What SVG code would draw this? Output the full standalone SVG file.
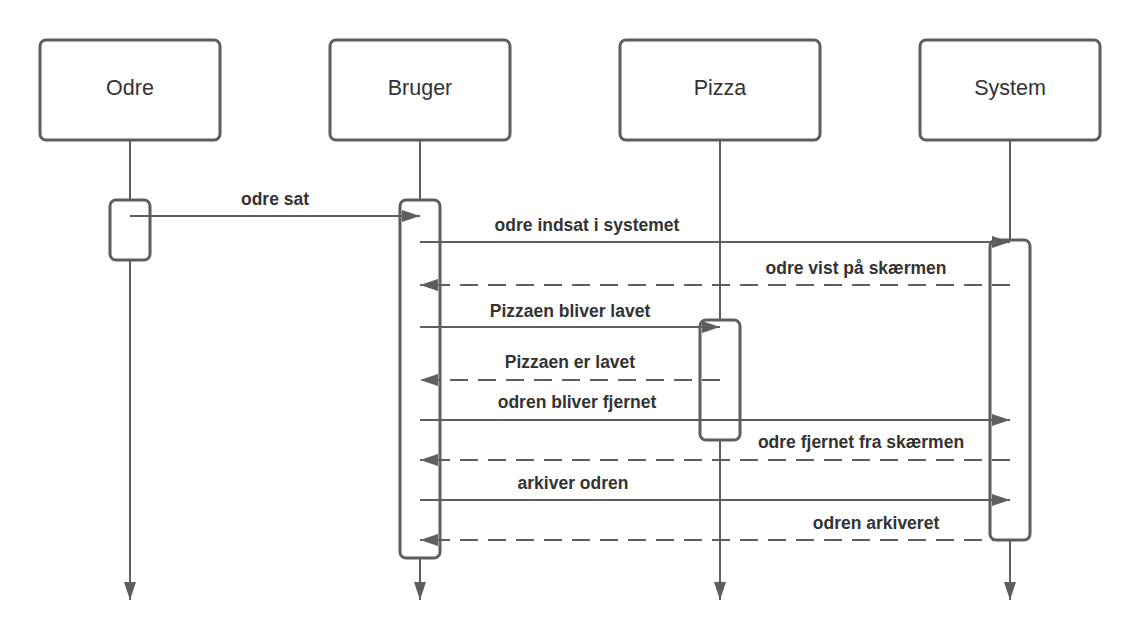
<svg xmlns="http://www.w3.org/2000/svg" width="1140" height="637" viewBox="0 0 1140 637">
<style>
.box{fill:#fff;stroke:#5e5e5e;stroke-width:3}
.act{fill:#fff;stroke:#5e5e5e;stroke-width:3}
.life{stroke:#5e5e5e;stroke-width:2;fill:none}
.msg{stroke:#5e5e5e;stroke-width:2;fill:none}
.dash{stroke-dasharray:18 10}
.nt{font-family:"Liberation Sans",Arial,sans-serif;font-size:21.5px;fill:#333;text-anchor:middle}
.lt{font-family:"Liberation Sans",Arial,sans-serif;font-size:17.5px;font-weight:bold;fill:#333;text-anchor:middle}
</style>
<defs>
<marker id="ah" markerUnits="userSpaceOnUse" markerWidth="18" markerHeight="12" refX="18" refY="6" orient="auto" overflow="visible">
<path d="M0,0 L18,6 L0,12 Z" fill="#5e5e5e"/>
</marker>
</defs>
<rect width="1140" height="637" fill="#fff"/>
<g id="lifelines">
<line class="life" x1="130" y1="140" x2="130" y2="600" marker-end="url(#ah)"/>
<line class="life" x1="420" y1="140" x2="420" y2="600" marker-end="url(#ah)"/>
<line class="life" x1="720" y1="140" x2="720" y2="600" marker-end="url(#ah)"/>
<line class="life" x1="1010" y1="140" x2="1010" y2="600" marker-end="url(#ah)"/>
</g>
<g id="odre">
<rect class="box" x="40" y="40" width="180" height="100" rx="6"/>
<text class="nt" x="130" y="95">Odre</text>
</g>
<g id="bruger">
<rect class="box" x="330" y="40" width="180" height="100" rx="6"/>
<text class="nt" x="420" y="95">Bruger</text>
</g>
<g id="pizza">
<rect class="box" x="620" y="40" width="200" height="100" rx="6"/>
<text class="nt" x="720" y="95">Pizza</text>
</g>
<g id="system">
<rect class="box" x="920" y="40" width="180" height="100" rx="6"/>
<text class="nt" x="1010" y="95">System</text>
</g>
<g id="act-odre"><rect class="act" x="110" y="200" width="40" height="60" rx="6"/></g>
<g id="act-bruger"><rect class="act" x="400" y="200" width="40" height="358" rx="6"/></g>
<g id="act-pizza"><rect class="act" x="700" y="320" width="40" height="120" rx="6"/></g>
<g id="act-system"><rect class="act" x="990" y="240" width="40" height="300" rx="6"/></g>
<g id="connectors">
<line class="msg" x1="130" y1="216" x2="420" y2="216" marker-end="url(#ah)"/>
<line class="msg" x1="420" y1="242" x2="1010" y2="242" marker-end="url(#ah)"/>
<line class="msg dash" x1="1010" y1="285" x2="420" y2="285" marker-end="url(#ah)"/>
<line class="msg" x1="420" y1="327" x2="720" y2="327" marker-end="url(#ah)"/>
<line class="msg dash" x1="720" y1="380" x2="420" y2="380" marker-end="url(#ah)"/>
<line class="msg" x1="420" y1="420" x2="1010" y2="420" marker-end="url(#ah)"/>
<line class="msg dash" x1="1010" y1="460" x2="420" y2="460" marker-end="url(#ah)"/>
<line class="msg" x1="420" y1="500" x2="1010" y2="500" marker-end="url(#ah)"/>
<line class="msg dash" x1="1010" y1="540" x2="420" y2="540" marker-end="url(#ah)"/>
</g>
<g id="labels">
<text class="lt" x="275" y="205">odre sat</text>
<text class="lt" x="587" y="231">odre indsat i systemet</text>
<text class="lt" x="856" y="274">odre vist på skærmen</text>
<text class="lt" x="570" y="317">Pizzaen bliver lavet</text>
<text class="lt" x="570" y="368">Pizzaen er lavet</text>
<text class="lt" x="577" y="408">odren bliver fjernet</text>
<text class="lt" x="861" y="448">odre fjernet fra skærmen</text>
<text class="lt" x="573" y="489">arkiver odren</text>
<text class="lt" x="876" y="529">odren arkiveret</text>
</g>
</svg>
